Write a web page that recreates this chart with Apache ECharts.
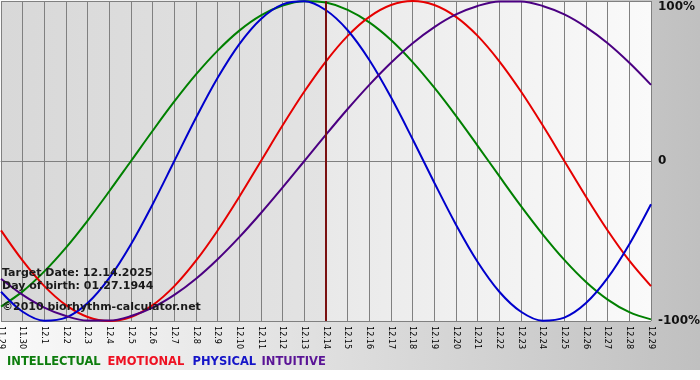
<!DOCTYPE html>
<html>
<head>
<meta charset="utf-8">
<script src="https://cdn.jsdelivr.net/npm/echarts@6/dist/echarts.min.js"></script>
<style>html,body{margin:0;padding:0;background:#fff}#c{width:700px;height:380px}</style>
</head>
<body>
<div id="c"></div>
<script>
const categories = ['11.29','11.30','12.1','12.2','12.3','12.4','12.5','12.6','12.7','12.8','12.9','12.10','12.11','12.12','12.13','12.14','12.15','12.16','12.17','12.18','12.19','12.20','12.21','12.22','12.23','12.24','12.25','12.26','12.27','12.28','12.29'];
const intellectual = [-91.0,-81.5,-69.0,-54.1,-37.2,-18.9,0,18.9,37.2,54.1,69.0,81.5,91.0,97.2,99.9,99.0,94.5,86.6,75.6,61.8,45.8,28.2,9.5,-9.5,-28.2,-45.8,-61.8,-75.6,-86.6,-94.5,-99.0];
const emotional = [-43.4,-62.3,-78.2,-90.1,-97.5,-100,-97.5,-90.1,-78.2,-62.3,-43.4,-22.3,0,22.3,43.4,62.3,78.2,90.1,97.5,100,97.5,90.1,78.2,62.3,43.4,22.3,0,-22.3,-43.4,-62.3,-78.2];
const physical = [-81.7,-94.2,-99.8,-97.9,-88.8,-73.1,-52.0,-27.0,0,27.0,52.0,73.1,88.8,97.9,99.8,94.2,81.7,63.1,39.8,13.6,-13.6,-39.8,-63.1,-81.7,-94.2,-99.8,-97.9,-88.8,-73.1,-52.0,-27.0];
const intuitive = [-73.6,-83.7,-91.6,-96.9,-99.7,-99.7,-96.9,-91.6,-83.7,-73.6,-61.4,-47.6,-32.5,-16.5,0,16.5,32.5,47.6,61.4,73.6,83.7,91.6,96.9,99.7,99.7,96.9,91.6,83.7,73.6,61.4,47.6];
const targetDay = '12.14';
const infoLines = ['Target Date: 12.14.2025', 'Day of birth: 01.27.1944', '\u00A92010 biorhythm-calculator.net'];
const legendNames = ['INTELLECTUAL', 'EMOTIONAL', 'PHYSICAL', 'INTUITIVE'];

const lineColors = ['#008000', '#e60000', '#0000cc', '#4b0082'];
const legendColors = ['#0d7d0d', '#ee1122', '#1515c8', '#5a1496'];
const legendX = [7, 107.5, 192.5, 261.5];
const infoY = [273, 286.5, 307];

const chart = echarts.init(document.getElementById('c'), null, {renderer: 'canvas'});
const seriesData = [intellectual, emotional, physical, intuitive];
const targetFrac = categories.indexOf(targetDay) / (categories.length - 1);

const graphics = [
  {type: 'rect', z: -100, silent: true, shape: {x: 0, y: 0, width: 700, height: 370},
   style: {fill: new echarts.graphic.LinearGradient(0, 0, 1, 0, [{offset: 0, color: '#fafafa'}, {offset: 1, color: '#c0c0c0'}])}}
];
infoLines.forEach((t, i) => graphics.push({
  type: 'text', z: 100, x: 2, y: infoY[i], silent: true,
  style: {text: t, fill: '#1a1a1a', font: 'bold 11px "DejaVu Sans"', verticalAlign: 'middle', align: 'left'}
}));
legendNames.forEach((t, i) => graphics.push({
  type: 'text', z: 100, x: legendX[i], y: 362, silent: true,
  style: {text: t, fill: legendColors[i], font: 'bold 11.5px "DejaVu Sans"', verticalAlign: 'middle', align: 'left'}
}));

const series = [];
legendNames.forEach((n, i) => series.push({
  name: n, type: 'line', data: seriesData[i], smooth: 0.34, symbol: 'none', z: 3,
  lineStyle: {color: lineColors[i], width: 2}, itemStyle: {color: lineColors[i]}
}));
series.push({
  type: 'line', data: [], z: 4, silent: true,
  markLine: {silent: true, symbol: 'none', label: {show: false},
    lineStyle: {color: '#7a1010', width: 2, type: 'solid'},
    data: [{xAxis: targetDay}]}
});

chart.setOption({
  animation: false,
  graphic: graphics,
  grid: {left: 1, top: 1, width: 650, height: 320, containLabel: false, outerBoundsMode: 'none',
    show: true, borderWidth: 0,
    backgroundColor: new echarts.graphic.LinearGradient(0, 0, 1, 0, [
      {offset: 0, color: '#d8d8d8'}, {offset: targetFrac, color: '#e3e3e3'},
      {offset: targetFrac, color: '#e9e9e9'}, {offset: 1, color: '#fafafa'}])},
  xAxis: {
    type: 'category', data: categories, boundaryGap: false,
    axisLine: {show: true, lineStyle: {color: '#808080', width: 1}},
    axisTick: {show: true, length: 4, interval: 0, lineStyle: {color: '#808080'}},
    splitLine: {show: true, interval: 0, lineStyle: {color: '#808080', width: 1}},
    axisLabel: {interval: 0, rotate: -90, margin: 5, color: '#000', fontSize: 9, fontFamily: '"DejaVu Sans Condensed", "Liberation Sans Narrow", "Liberation Sans", Arial, sans-serif'}
  },
  yAxis: {
    type: 'value', position: 'right', min: -100, max: 100, interval: 100,
    axisLine: {show: false}, axisTick: {show: false},
    splitLine: {show: true, lineStyle: {color: '#808080', width: 1}},
    axisLabel: {
      margin: 7, color: '#111', fontSize: 12, fontWeight: 'bold', fontFamily: '"DejaVu Sans"', align: 'left',
      formatter: v => v === 100 ? '{t|100%}' : (v === 0 ? '0' : v + '%'),
      rich: {t: {padding: [12, 0, 0, 0], color: '#111', fontSize: 12, fontWeight: 'bold', fontFamily: '"DejaVu Sans"'}}
    }
  },
  series: series
});
</script>
</body>
</html>
